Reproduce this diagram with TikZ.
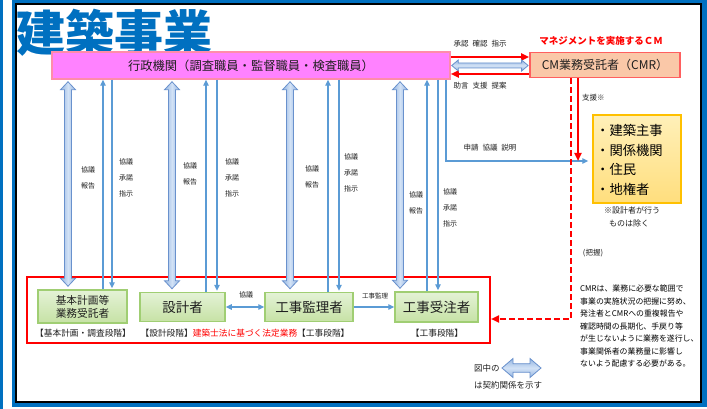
\documentclass[tikz,border=0pt]{standalone}
\usepackage{fontspec}
\setmainfont{Noto Sans CJK JP}
\usetikzlibrary{arrows.meta,calc}
\definecolor{frameblue}{RGB}{0,112,192}
\definecolor{lineblue}{RGB}{91,155,213}
\definecolor{arrowedge}{RGB}{105,145,205}
\definecolor{arrowfillA}{RGB}{150,182,225}
\definecolor{arrowfillB}{RGB}{210,226,246}
\definecolor{pinkfill}{RGB}{255,130,255}
\definecolor{pinkedge}{RGB}{255,140,170}
\definecolor{cmrfill}{RGB}{250,200,168}
\definecolor{cmredge}{RGB}{255,95,95}
\definecolor{yeltop}{RGB}{255,240,185}
\definecolor{yelbot}{RGB}{255,222,125}
\definecolor{yeledge}{RGB}{255,192,0}
\definecolor{greentop}{RGB}{228,242,214}
\definecolor{greenbot}{RGB}{198,226,165}
\definecolor{greenedge}{RGB}{160,206,115}
\definecolor{txt}{RGB}{30,30,30}
\newcommand\fs[2]{\fontsize{#1}{#2}\selectfont}
% vertical double block arrow between two points (top, bottom)
\newcommand\vbarrow[2]{\path[vcontract] let \p1=(#1), \p2=(#2) in
  (\x1,\y1-2pt) -- (\x1+7.5pt,\y1-10pt) -- (\x1+3.5pt,\y1-10pt) --
  (\x2+3.5pt,\y2+11pt) -- (\x2+7.5pt,\y2+11pt) -- (\x2,\y2+3pt) --
  (\x2-7.5pt,\y2+11pt) -- (\x2-3.5pt,\y2+11pt) --
  (\x1-3.5pt,\y1-10pt) -- (\x1-7.5pt,\y1-10pt) -- cycle;}
% horizontal double block arrow: start, end, half shaft, half head, head length
\newcommand\hbarrow[5]{\path[hcontract] let \p1=(#1), \p2=(#2) in
  (\x1,\y1) -- (\x1+#5,\y1+#4) -- (\x1+#5,\y1+#3) -- (\x2-#5,\y2+#3) --
  (\x2-#5,\y2+#4) -- (\x2,\y2) -- (\x2-#5,\y2-#4) -- (\x2-#5,\y2-#3) --
  (\x1+#5,\y1-#3) -- (\x1+#5,\y1-#4) -- cycle;}
\begin{document}
\begin{tikzpicture}[x=1pt,y=-1pt,
  flow/.style={draw=lineblue, line width=1.4, -{Triangle[length=6pt,width=5.5pt]}},
  flowboth/.style={draw=lineblue, line width=1.4, {Triangle[length=6pt,width=5.5pt]}-{Triangle[length=6pt,width=5.5pt]}},
  redarrow/.style={draw=red, line width=2, -{Triangle[length=8pt,width=7pt]}},
  reddash/.style={draw=red, line width=2, dash pattern=on 6pt off 3pt, -{Triangle[length=8pt,width=7pt]}},
  vcontract/.style={draw=arrowedge, line width=0.8, left color=arrowfillA, right color=arrowfillA, middle color=arrowfillB},
  hcontract/.style={draw=arrowedge, line width=0.8, top color=arrowfillA, bottom color=arrowfillA, middle color=arrowfillB},
  greenbox/.style={draw=greenedge, line width=1.5, top color=greentop, bottom color=greenbot, inner sep=0, text=txt, align=center},
  lab/.style={inner sep=0, text=txt, font=\fs{7}{16}, align=center},
  stagelab/.style={inner sep=0, text=txt, font=\fs{8.7}{10}},
]
\useasboundingbox (0,0) rectangle (707,409);
% frame
\fill[frameblue] (0,0) rectangle (3,409);
\fill[frameblue] (12,0) rectangle (707,407);
\fill[white] (16,4) rectangle (701,402);
\draw[black, line width=1.2] (16,4) rectangle (701,402);

% title
\node[anchor=base west, inner sep=0, text=frameblue, font=\fs{49}{49}\bfseries] (title) at (16,52) {建築事業};

% main boxes
\node[draw=pinkedge, line width=1.5, fill=pinkfill, minimum width=398, minimum height=27, inner sep=0, text=txt, font=\fs{12.3}{14}] (pink) at (251,65.5) {行政機関（調査職員・監督職員・検査職員）};
\node[draw=cmredge, line width=1.8, fill=cmrfill, minimum width=150, minimum height=25, inner sep=0, text=txt, font=\fs{12}{14}] (cmr) at (605,65) {CM業務受託者（CMR）};
\node[inner sep=0, text=red, font=\fs{9.5}{11}\bfseries] (mgmt) at (601,41) {マネジメントを実施するＣＭ};

\node[draw=yeledge, line width=1.5, top color=yeltop, bottom color=yelbot, minimum width=88, minimum height=88, inner sep=0] (yel) at (637,159) {};
\node[inner sep=0, anchor=west, align=left, text=black, font=\fs{13.3}{19.5}] (yeltext) at (596,160) {・建築主事\\・関係機関\\・住民\\・地権者};
\node[inner sep=0, anchor=north west, align=left, text=txt, font=\fs{8}{13}] (except) at (604,207) {※設計者が行う\\\hspace*{5pt}ものは除く};

% stage frame and bottom boxes
\node[draw=red, line width=2, minimum width=463, minimum height=66, inner sep=0] (stage) at (258.5,310) {};
\node[greenbox, minimum width=89, minimum height=33, font=\fs{10.7}{13}] (b1) at (82.5,306.5) {基本計画等\\業務受託者};
\node[greenbox, minimum width=85, minimum height=29, font=\fs{13.5}{15}] (b2) at (182.5,307) {設計者};
\node[greenbox, minimum width=88, minimum height=29, font=\fs{13.5}{15}] (b3) at (309,307) {工事監理者};
\node[greenbox, minimum width=83, minimum height=30, font=\fs{13.5}{15}] (b4) at (436.5,307) {工事受注者};

\node[stagelab] (st1) at (83,333) {【基本計画・調査段階】};
\node[stagelab] (st2) at (245,333) {【設計段階】\textcolor{red}{建築士法に基づく法定業務}【工事段階】};
\node[stagelab] (st4) at (437,333) {【工事段階】};

% x positions of the vertical connectors
\coordinate (g1a) at (68,0);  \coordinate (g1b) at (103,0); \coordinate (g1c) at (112,0);
\coordinate (g2a) at (172,0); \coordinate (g2b) at (206,0); \coordinate (g2c) at (217,0);
\coordinate (g3a) at (290,0); \coordinate (g3b) at (328,0); \coordinate (g3c) at (339,0);
\coordinate (g4a) at (400,0); \coordinate (g4b) at (427,0); \coordinate (g4c) at (438,0);

% contract block arrows
\vbarrow{g1a |- pink.south}{g1a |- b1.north}
\vbarrow{g2a |- pink.south}{g2a |- b2.north}
\vbarrow{g3a |- pink.south}{g3a |- b3.north}
\vbarrow{g4a |- pink.south}{g4a |- b4.north}

% thin up / down arrows
\foreach \g/\b in {1/b1,2/b2,3/b3,4/b4}{
  \draw[flow] (g\g b |- \b.north) -- (g\g b |- pink.south);
  \draw[flow, shorten >=1pt] (g\g c |- pink.south) -- (g\g c |- \b.north);
}

% labels of vertical connectors
\node[lab] (l1a) at (88,178) {協議\\報告};
\node[lab] (l1b) at (126,178) {協議\\承諾\\指示};
\node[lab] (l2a) at (190,173.5) {協議\\報告};
\node[lab] (l2b) at (232,178) {協議\\承諾\\指示};
\node[lab] (l3a) at (312,176.5) {協議\\報告};
\node[lab] (l3b) at (351,173) {協議\\承諾\\指示};
\node[lab] (l4a) at (416,203) {協議\\報告};
\node[lab] (l4b) at (450,208) {協議\\承諾\\指示};

% between bottom boxes
\draw[flowboth] (b2.east) -- (b3.west);
\node[lab] (l23) at (246,295) {協議};
\draw[flow] (b3.east) -- (b4.west);
\node[lab, font=\fs{6.5}{8}] (l34) at (375,296) {工事監理};

% pink <-> CMR
\coordinate (ra) at (0,57); \coordinate (rb) at (0,74); \coordinate (rc) at (0,65.5);
\draw[redarrow] (pink.east |- ra) -- (cmr.west |- ra);
\draw[redarrow] (cmr.west |- rb) -- (pink.east |- rb);
\hbarrow{$(pink.east |- rc)+(1,0)$}{$(cmr.west |- rc)+(-1,0)$}{2.5pt}{5.5pt}{6.5pt}
\node[lab, font=\fs{7.5}{9}] (lapprove) at (480,44) {承認\hspace{4pt}確認\hspace{4pt}指示};
\node[lab, font=\fs{7.5}{9}] (ladvice) at (480,86) {助言\hspace{4pt}支援\hspace{4pt}提案};

% to the yellow box
\coordinate (bl) at (446,161);
\draw[flow, shorten >=4pt] (bl |- pink.south) -- (bl) -- (bl -| yel.west);
\node[lab, font=\fs{7.5}{9}] (lapply) at (490,148) {申請\hspace{4pt}協議\hspace{4pt}説明};

% CMR support lines
\coordinate (sup) at (578,161);
\draw[redarrow] (sup |- cmr.south) -- (sup);
\node[lab, font=\fs{7.5}{9}, anchor=west] (lsupport) at (582,98) {支援※};
\coordinate (dturn) at (571,319);
\draw[reddash] (dturn |- cmr.south) -- (dturn) -- (dturn -| stage.east);
\node[lab, font=\fs{7.5}{9}] (lgrasp) at (593,253) {(把握)};

% note
\node[inner sep=0, anchor=north west, align=left, text=black, font=\fs{7.9}{12.5}] (note) at (580,285)
 {CMRは、業務に必要な範囲で\\事業の実施状況の把握に努め、\\発注者とCMRへの重複報告や\\確認時間の長期化、手戻り等\\が生じないように業務を遂行し、\\事業関係者の業務量に影響し\\ないよう配慮する必要がある。};

% legend
\node[inner sep=0, anchor=west, text=txt, font=\fs{8.5}{10}] (leg1) at (474,368) {図中の};
\node[inner sep=0, anchor=west, text=txt, font=\fs{8.5}{10}] (leg2) at (474,385) {は契約関係を示す};
\coordinate (legA) at (502,368); \coordinate (legB) at (541,368);
\hbarrow{legA}{legB}{4.3pt}{9.5pt}{11pt}
\end{tikzpicture}
\end{document}
